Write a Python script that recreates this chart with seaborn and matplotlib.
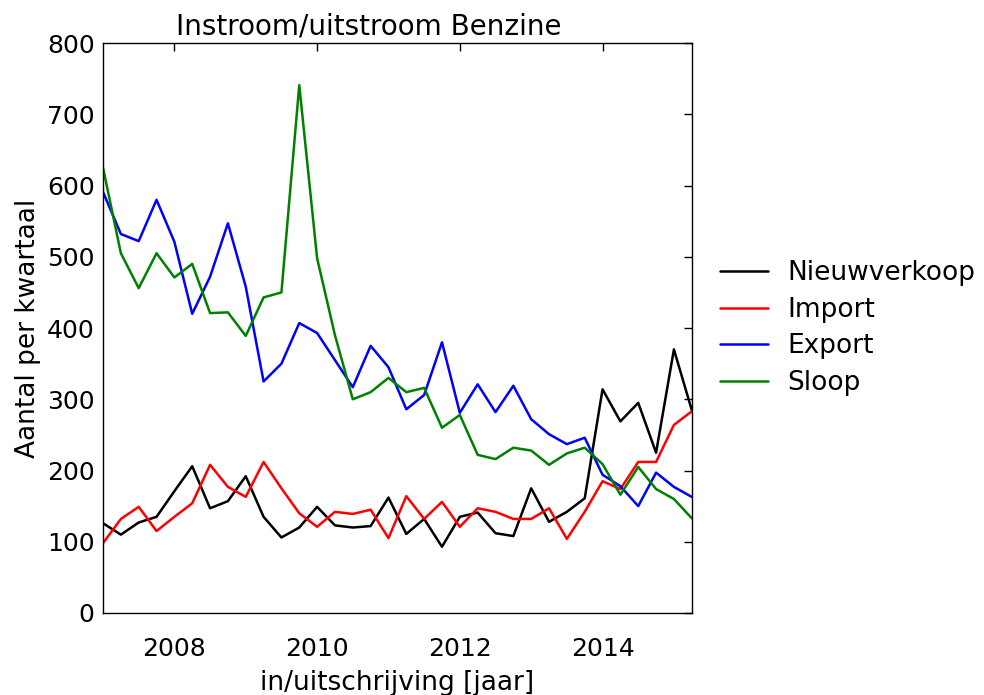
import matplotlib
matplotlib.use("Agg")
import matplotlib.pyplot as plt
import seaborn as sns
import pandas as pd

jaar = [2007.00, 2007.25, 2007.50, 2007.75, 2008.00, 2008.25, 2008.50, 2008.75,
        2009.00, 2009.25, 2009.50, 2009.75, 2010.00, 2010.25, 2010.50, 2010.75,
        2011.00, 2011.25, 2011.50, 2011.75, 2012.00, 2012.25, 2012.50, 2012.75,
        2013.00, 2013.25, 2013.50, 2013.75, 2014.00, 2014.25, 2014.50, 2014.75,
        2015.00, 2015.25]

nieuwverkoop = [126, 110, 127, 135, 171, 206, 147, 157, 192, 135, 106, 120,
                149, 123, 120, 122, 162, 111, 132, 93, 135, 141, 112, 108,
                175, 128, 142, 161, 314, 269, 295, 225, 370, 285]
import_ = [98, 132, 149, 115, 135, 154, 208, 177, 163, 212, 175, 140,
           121, 142, 139, 145, 105, 164, 132, 156, 121, 147, 142, 132,
           132, 147, 104, 142, 185, 174, 212, 212, 264, 283]
export = [591, 532, 522, 580, 521, 420, 472, 547, 458, 325, 350, 407,
          393, 355, 317, 375, 345, 286, 306, 380, 281, 321, 282, 319,
          272, 251, 237, 246, 194, 178, 150, 197, 177, 163]
sloop = [625, 505, 456, 505, 471, 490, 421, 422, 389, 443, 450, 741,
         498, 390, 300, 310, 330, 310, 316, 260, 278, 222, 216, 232,
         228, 208, 224, 232, 209, 166, 205, 174, 160, 133]

reeksen = {"Nieuwverkoop": nieuwverkoop, "Import": import_,
           "Export": export, "Sloop": sloop}
kleuren = {"Nieuwverkoop": "black", "Import": "red",
           "Export": "blue", "Sloop": "green"}

df = pd.concat([pd.DataFrame({"jaar": jaar, "aantal": v, "reeks": k})
                for k, v in reeksen.items()], ignore_index=True)

sns.set_style("white")
plt.rcParams["font.family"] = ["DejaVu Sans"]
plt.rcParams["text.color"] = "black"
plt.rcParams["axes.labelcolor"] = "black"
plt.rcParams["xtick.color"] = "black"
plt.rcParams["ytick.color"] = "black"

fig, ax = plt.subplots(figsize=(9.84, 6.95), dpi=100)
fig.subplots_adjust(left=0.1047, right=0.703, top=0.938, bottom=0.118)

sns.lineplot(data=df, x="jaar", y="aantal", hue="reeks", palette=kleuren,
             linewidth=1.8, ax=ax)

ax.set_xlim(2007, 2015.25)
ax.set_ylim(0, 800)
ax.set_xticks([2008, 2010, 2012, 2014])
ax.set_yticks(range(0, 801, 100))
ax.tick_params(direction="in", top=True, right=True, labelsize=18,
               length=6, width=1, color="black", labelcolor="black")
ax.tick_params(axis="x", pad=17.5)
ax.tick_params(axis="y", pad=6)
for s in ax.spines.values():
    s.set_color("black")
    s.set_linewidth(1)

ax.set_title("Instroom/uitstroom Benzine", fontsize=20, color="black",
             pad=6, x=0.452)
ax.set_xlabel("in/uitschrijving [jaar]", fontsize=19, color="black", labelpad=6)
ax.set_ylabel("Aantal per kwartaal", fontsize=19, color="black", labelpad=4)

leg = ax.legend(loc="center left", bbox_to_anchor=(1.008, 0.5),
                frameon=False, fontsize=19, handlelength=1.8,
                handletextpad=0.75, labelspacing=0.4)
for t in leg.get_texts():
    t.set_color("black")

fig.savefig("out.png", dpi=100)
